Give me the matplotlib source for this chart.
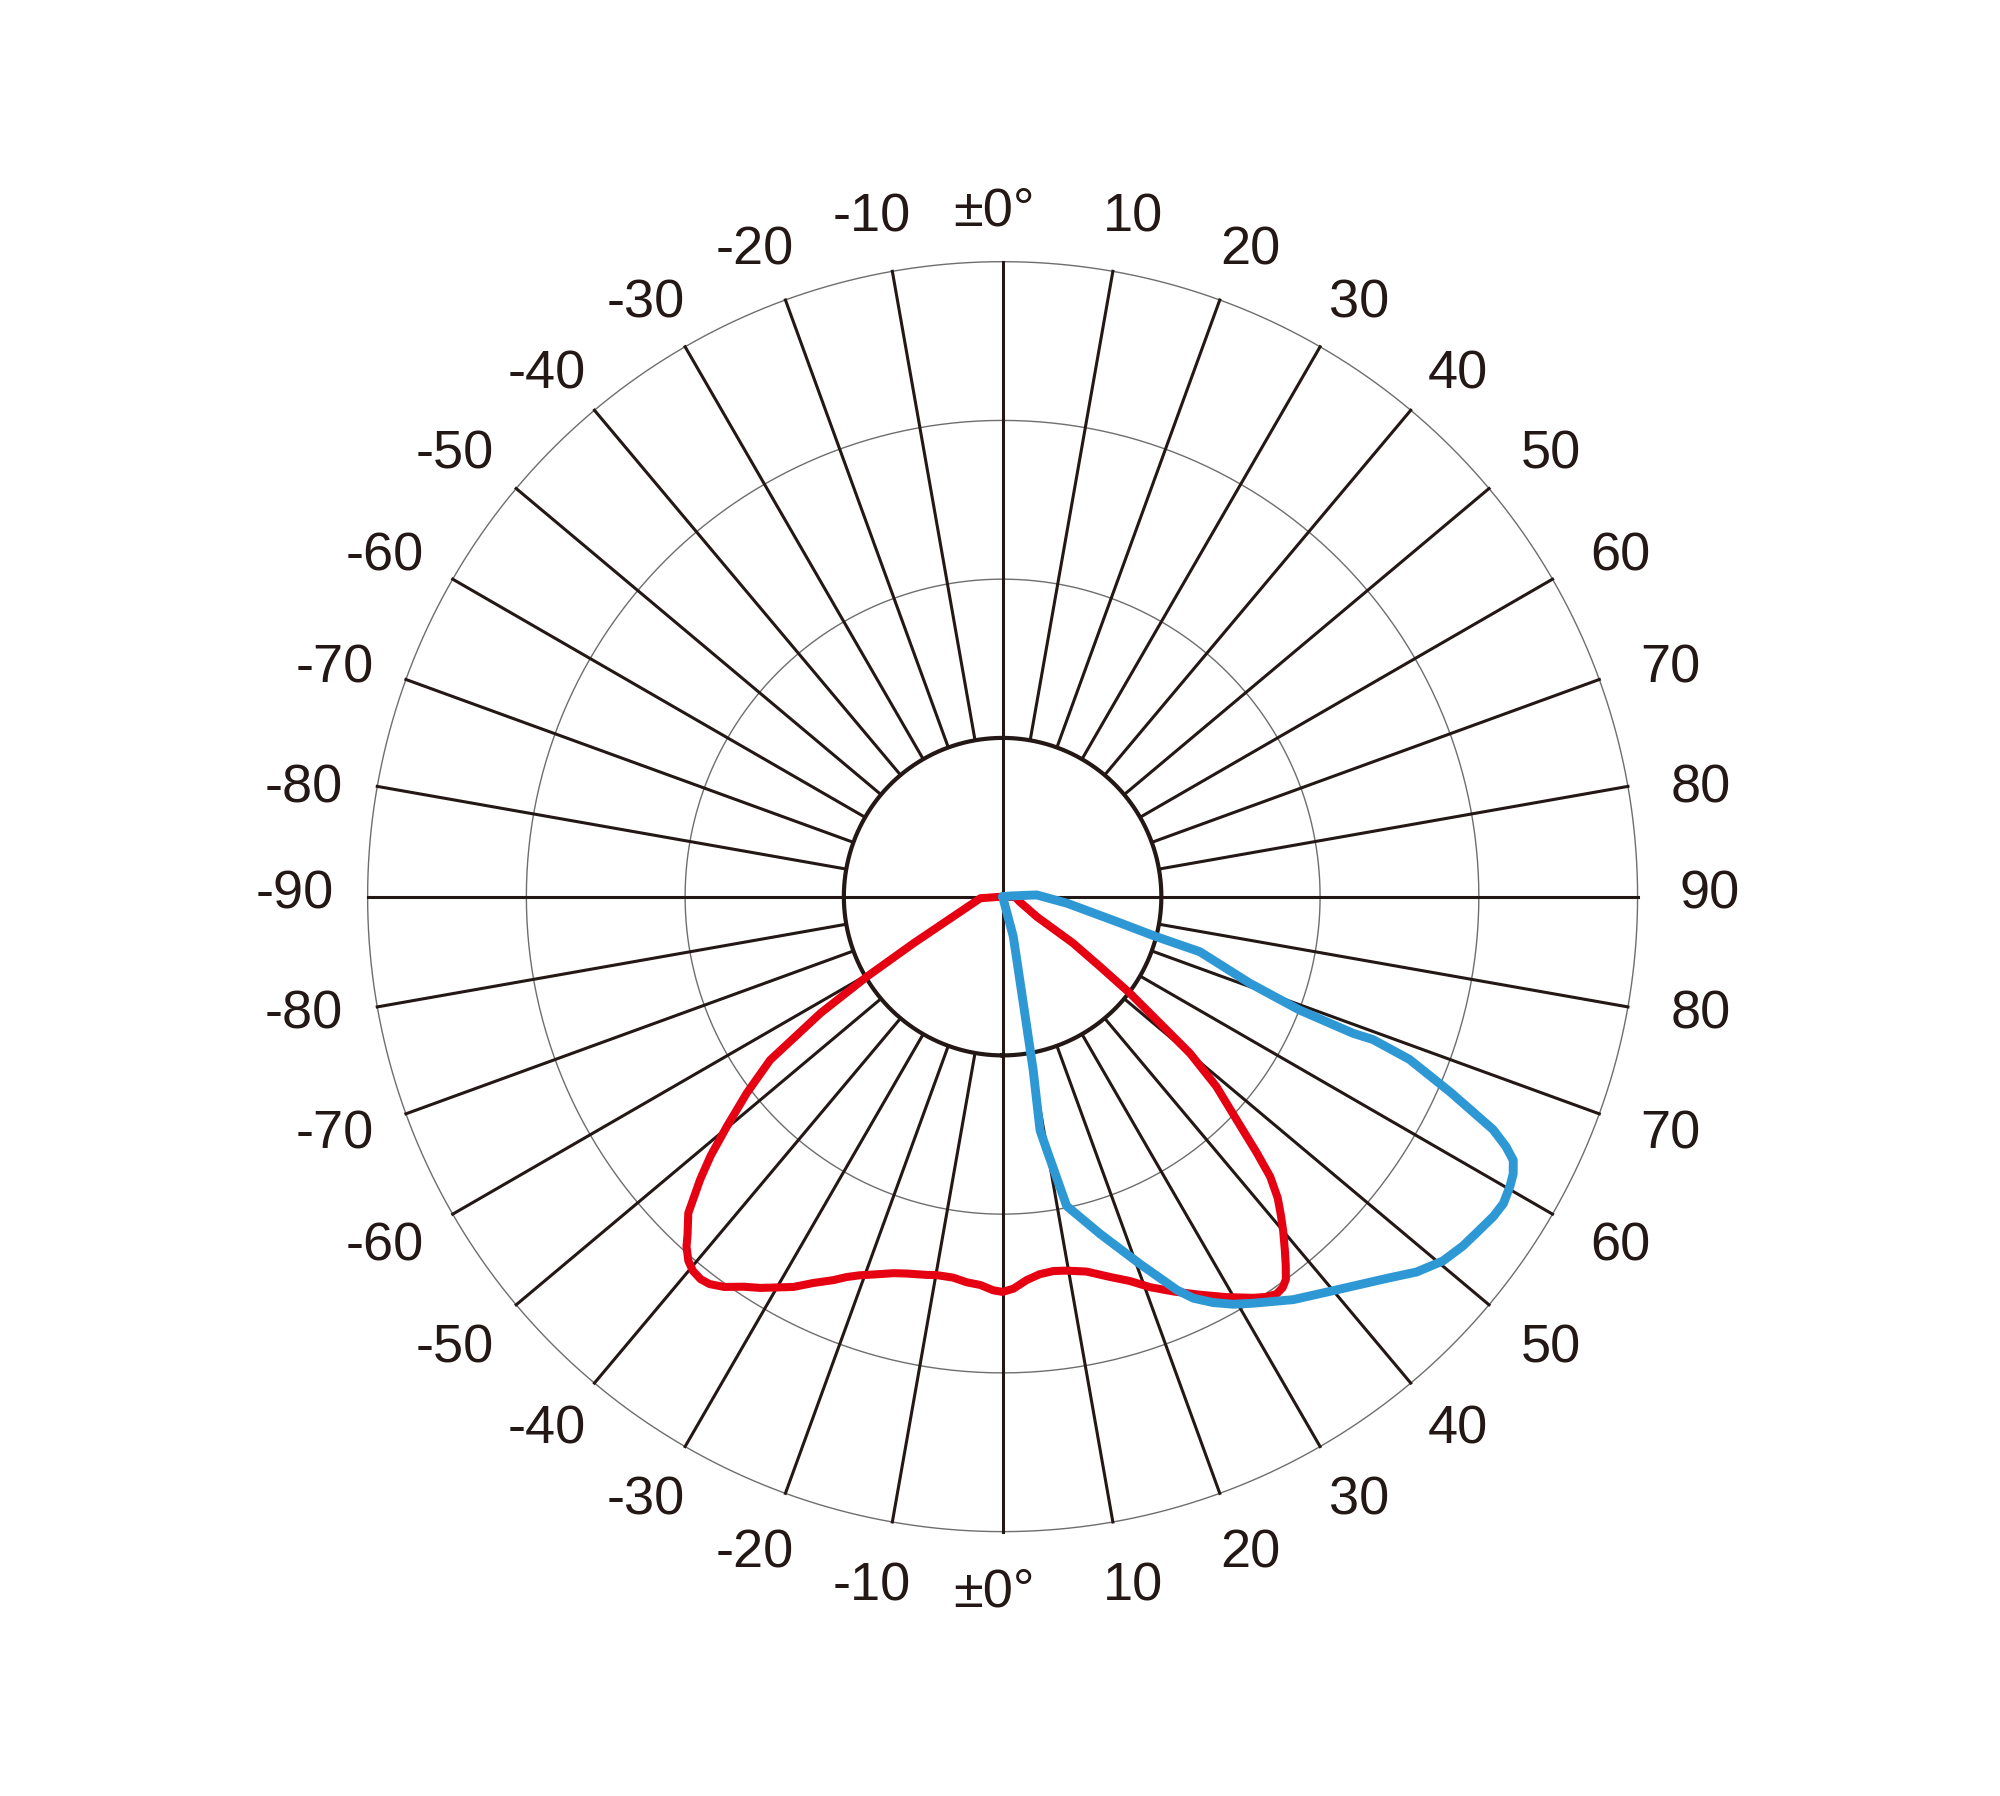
import numpy as np
import matplotlib.pyplot as plt

plt.rcParams['font.family'] = ['Liberation Sans', 'DejaVu Sans']

# angles in degrees, 0 = straight down, positive = right side
# values in ring units (outer ring = 4)
red_angle = [-90, -86, -67.9, -62.4, -59.5, -57.4, -54.9, -52.5, -50.2, -48.4, -46.9,
             -44.8, -43.0, -42.1, -40.8, -39.6, -38.3, -37.1, -35.5, -33.6, -31.8,
             -28.2, -26.1, -23.8, -22.3, -20.7, -18.0, -16.2, -14.3, -11.3, -9.9,
             -7.4, -5.3, -3.3, -1.4, 0, 1.6, 3.6, 5.6, 7.7, 9.7, 12.6, 15.8, 18.3,
             20.7, 23.4, 26.4, 29.2, 32.0, 33.4, 34.6, 35.6, 36.5, 37.5, 38.6, 40.0,
             41.2, 42.4, 43.7, 44.8, 45.9, 48.4, 50.1, 52.8, 54.3, 56.6, 59.6, 74,
             88, 90]
red_value = [0.0, 0.14, 0.34, 0.63, 0.99, 1.36, 1.79, 2.03, 2.26, 2.46, 2.61,
             2.81, 2.91, 2.97, 3.03, 3.06, 3.07, 3.06, 3.02, 2.95, 2.90,
             2.79, 2.71, 2.64, 2.59, 2.55, 2.50, 2.47, 2.45, 2.43, 2.42,
             2.42, 2.44, 2.45, 2.48, 2.49, 2.47, 2.42, 2.39, 2.38, 2.39, 2.42, 2.49, 2.55,
             2.63, 2.71, 2.80, 2.89, 2.98, 3.02, 3.04, 3.03, 3.00, 2.93, 2.85, 2.75,
             2.66, 2.57, 2.44, 2.27, 2.10, 1.80, 1.54, 1.01, 0.76, 0.53, 0.25, 0.11,
             0.08, 0.0]

blue_angle = [100, 95, 92.9, 84.1, 77.6, 75.4, 74.4, 70.7, 69.1, 68.7, 68.9, 68.2,
              66.4, 65.4, 64.6, 63.6, 62.7, 61.5, 60.3, 58.5, 56.9, 54.6, 52.8, 50.4,
              47.8, 45.4, 40.0, 35.8, 31.7, 29.5, 27.4, 25.4, 23.9, 20.5, 16.1, 11.7,
              9.9, 9.1, 10.0, 11.0, 15.0, 20.0]
blue_value = [0.0, 0.05, 0.215, 0.41, 0.74, 1.00, 1.29, 1.65, 2.00, 2.37, 2.50, 2.76,
              3.08, 3.26, 3.42, 3.54, 3.62, 3.66, 3.68, 3.70, 3.69, 3.66, 3.64, 3.60,
              3.52, 3.42, 3.24, 3.13, 3.01, 2.95, 2.88, 2.80, 2.71, 2.47, 2.21, 1.99,
              1.62, 1.49, 1.11, 0.68, 0.26, 0.0]

ring_values = [2, 3, 4]
inner_ring = 1
spoke_angles = np.arange(0, 360, 10)
label_angles = np.arange(-170, 190, 10)

ink = '#231815'
font_pt = 19.5


def label_text(a):
    if a in (0, 180):
        return '\u00b10\u00b0'
    if abs(a) <= 90:
        return str(a)
    return str(int(np.sign(a) * (180 - abs(a))))


fig = plt.figure(figsize=(10, 8.98), dpi=200)
ax = fig.add_axes([0.1838, 0.1472, 0.635, 0.7071], projection='polar')
ax.set_theta_zero_location('S')
ax.set_theta_direction(1)
ax.set_ylim(0, 4)
ax.grid(False)
ax.set_xticks([])
ax.set_yticks([])
ax.spines['polar'].set_visible(False)

full = np.linspace(0, 2 * np.pi, 721)
for r in ring_values:
    ax.plot(full, np.full_like(full, r), color='#6e6e6e', lw=0.5, clip_on=False)
ax.plot(full, np.full_like(full, inner_ring), color=ink, lw=1.5, clip_on=False)

for a in spoke_angles:
    th = np.deg2rad(a)
    r0 = 0 if a % 90 == 0 else inner_ring
    ax.plot([th, th], [r0, 4], color=ink, lw=1.1, clip_on=False)

ax.plot(np.deg2rad(red_angle), red_value, color='#e50012', lw=2.9,
        solid_joinstyle='round', solid_capstyle='round', clip_on=False)
ax.plot(np.deg2rad(blue_angle), blue_value, color='#2e98d5', lw=3.2,
        solid_joinstyle='round', solid_capstyle='round', clip_on=False)

# labels: glyph-centred, pushed slightly away from the nearest 0 axis
for a in label_angles:
    near = abs(a) if abs(a) <= 90 else 180 - abs(a)
    dy = 0.0
    if near == 0:
        r_lab, shift, dx = 4.35, 0.0, -3.0
    else:
        r_lab = 4.39 if near <= 40 else 4.457
        shift = 0.8 if near < 90 else 0.0
        dx = 0.0
        if near == 90:
            dy = 2.5
    away = 1 if (abs(a) < 90) else -1
    pos = a + np.sign(a) * away * shift
    ax.annotate(label_text(a), xy=(np.deg2rad(pos), r_lab),
                xytext=(dx, dy - 0.35 * font_pt), textcoords='offset points',
                ha='center', va='baseline', fontsize=font_pt, color=ink,
                annotation_clip=False)

fig.savefig('out.png', dpi=200, facecolor='white')
